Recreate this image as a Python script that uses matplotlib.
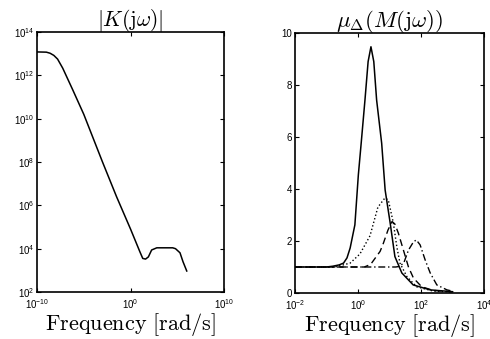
import matplotlib
matplotlib.use("Agg")
import matplotlib.pyplot as plt
import numpy as np

# |K(jw)| (log10 of frequency, log10 of magnitude)
k_logw = [-10, -9.0, -8.6, -8.2, -7.8, -7.25, -6.18, -5, -3, -1.5, 0, 1.0, 1.3,
          1.6, 1.9, 2.25, 2.8, 4.5, 4.8, 5.28, 5.6, 6.0]
k_logmag = [13.08, 13.07, 13.02, 12.92, 12.75, 12.33, 11.33, 10.2, 8.0, 6.4, 4.9,
            3.85, 3.55, 3.52, 3.62, 3.94, 4.04, 4.04, 4.0, 3.81, 3.4, 2.97]

# mu curves (log10 of frequency, value)
solid_logw = [-2, -1, -0.8, -0.6, -0.46, -0.35, -0.25, -0.1, 0.01, 0.1, 0.22, 0.32, 0.41,
              0.5, 0.59, 0.75, 0.86, 1.02, 1.17, 1.39, 1.75, 2.29, 3.0]
solid_mu = [1.0, 1.0, 1.03, 1.08, 1.15, 1.35, 1.73, 2.62, 4.54, 5.76, 7.42, 8.9, 9.47,
            8.9, 7.42, 5.76, 3.96, 2.69, 1.4, 0.77, 0.31, 0.12, 0.05]

dotted_logw = [-2, -0.8, -0.57, -0.25, 0.06, 0.38, 0.63, 0.85, 0.96, 1.12, 1.23, 1.33,
               1.55, 1.86, 2.4, 3.0]
dotted_mu = [1.0, 1.0, 1.05, 1.15, 1.5, 2.2, 3.3, 3.65, 3.58, 2.7, 1.78, 1.15,
             0.63, 0.24, 0.07, 0.04]

dashed_logw = [-2, 0.2, 0.4, 0.55, 0.7, 0.8, 0.95, 1.08, 1.17, 1.28, 1.44, 1.6, 1.76,
               2.02, 2.38, 3.0]
dashed_mu = [1.0, 1.0, 1.1, 1.35, 1.6, 1.9, 2.42, 2.75, 2.65, 2.3, 1.65, 1.0, 0.57,
             0.24, 0.1, 0.04]

dashdot_logw = [-2, 1.2, 1.3, 1.45, 1.6, 1.76, 1.85, 1.97, 2.13, 2.29, 2.5, 2.82, 3.0]
dashdot_mu = [1.0, 1.0, 1.02, 1.15, 1.65, 1.97, 2.04, 1.85, 1.27, 0.77, 0.31, 0.12, 0.07]

plt.rcParams["font.family"] = ["Liberation Sans", "DejaVu Sans"]
plt.rcParams["font.size"] = 7

fig = plt.figure(figsize=(4.9, 3.39), dpi=100)
ax1 = fig.add_axes([0.0755, 0.1386, 0.382, 0.767])
ax2 = fig.add_axes([0.602, 0.1357, 0.386, 0.767])

xlabel_font = dict(fontsize=16, math_fontfamily="cm")

# Left panel
ax1.plot(10.0 ** np.array(k_logw), 10.0 ** np.array(k_logmag), color="black", lw=1.1)
ax1.set_xscale("log")
ax1.set_yscale("log")
ax1.set_xlim(1e-10, 1e10)
ax1.set_ylim(1e2, 1e14)
ax1.set_xticks([1e-10, 1e0, 1e10])
ax1.set_yticks([1e2, 1e4, 1e6, 1e8, 1e10, 1e12, 1e14])
ax1.set_title(r"$|K(\mathrm{j}\omega)|$", pad=4, fontsize=15.5, math_fontfamily="cm")
ax1.set_xlabel(r"$\mathrm{Frequency\ [rad/s]}$", labelpad=0, **xlabel_font)

# Right panel
ax2.plot(10.0 ** np.array(solid_logw), solid_mu, "-", color="black", lw=1.1)
ax2.plot(10.0 ** np.array(dotted_logw), dotted_mu, ":", color="black", lw=1.0)
ax2.plot(10.0 ** np.array(dashed_logw), dashed_mu, "--", color="black", lw=1.0, dashes=(5, 3))
ax2.plot(10.0 ** np.array(dashdot_logw), dashdot_mu, "-.", color="black", lw=1.0, dashes=(5, 2, 1, 2))
ax2.set_xscale("log")
ax2.set_xlim(1e-2, 1e4)
ax2.set_ylim(0, 10)
ax2.set_xticks([1e-2, 1e0, 1e2, 1e4])
ax2.set_yticks([0, 2, 4, 6, 8, 10])
ax2.set_title(r"$\mu_{\mathbf{\Delta}}(M(\mathrm{j}\omega))$", pad=4, fontsize=16.5, math_fontfamily="cm")
ax2.set_xlabel(r"$\mathrm{Frequency\ [rad/s]}$", labelpad=0, **xlabel_font)

for ax in (ax1, ax2):
    ax.minorticks_off()
    ax.tick_params(direction="in", top=True, right=True, length=3, width=0.8)
    ax.tick_params(axis="x", pad=4)
    ax.tick_params(axis="y", pad=2)
    for s in ax.spines.values():
        s.set_linewidth(1.2)

fig.savefig("out.png", dpi=100)
